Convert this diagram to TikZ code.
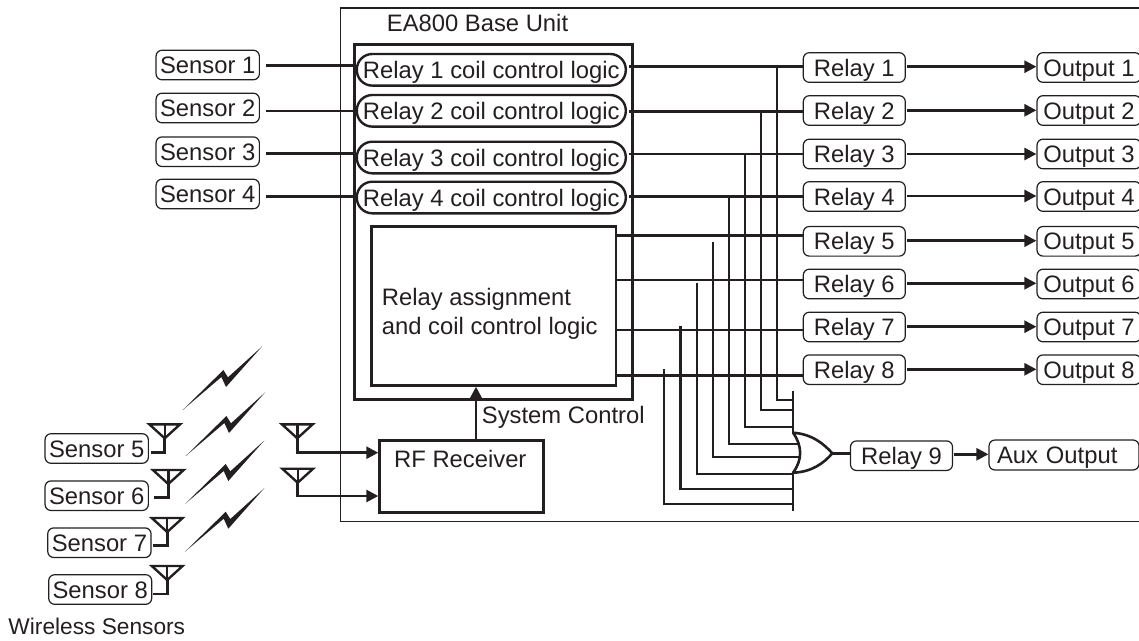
\documentclass[tikz,border=0pt]{standalone}
\usepackage{fontspec}
\setmainfont{Liberation Sans}
\definecolor{ink}{HTML}{231F20}
\usetikzlibrary{arrows.meta,calc}
\tikzset{
  wire/.style={draw=ink,line width=2.6pt},
  thick box/.style={draw=ink,line width=2.7pt},
  arrowwire/.style={wire,-{Triangle[length=12pt,width=12pt]},shorten >=0pt},
  label box/.style={draw=ink,line width=1.2pt,rounded corners=6pt,text=ink,inner sep=0pt,text height=17pt,text depth=0pt},
  relaybox/.style={label box,minimum width=102pt,minimum height=29.6pt},
  pillbox/.style={draw=ink,line width=2.4pt,rounded corners=15.5pt,minimum width=269pt,minimum height=31.6pt,text=ink,inner sep=0pt,text height=17pt,text depth=0pt},
  plain/.style={text=ink,inner sep=0pt,anchor=base west},
  antenna/.style={draw=ink,line width=2.4pt,line join=miter},
  bolt/.style={fill=ink,draw=none},
  every node/.style={font=\fontsize{23.8}{29}\selectfont}
}
\newcommand{\antennaat}[3]{% name, center x, top y
  \coordinate (#1) at (#2,#3+14);
  \draw[antenna] (#2-15.4,#3) -- (#2+15.4,#3) -- (#1) -- cycle;
  \draw[antenna] (#2,#3) -- (#1);
}
\newcommand{\boltat}[2]{%
  \fill[bolt] (#1,#2) -- ++(40.7,-40) -- ++(4.6,7.3) -- ++(34,-30.8) -- ++(-36,40.5) -- ++(-4.6,-10) -- cycle;
}
\begin{document}
\begin{tikzpicture}[x=1pt,y=-1pt]
\useasboundingbox (0,0) rectangle (1139,640);
% outer unit
\draw[draw=ink,line width=1.8pt] (1139,8) -- (340.5,8) -- (340.5,521.5) -- (1139,521.5);
\node[plain] (title) at (386.7,31.7) {EA800 Base Unit};
% base box
\node[thick box,minimum width=277.7pt,minimum height=355pt,anchor=north west,inner sep=0pt] (base) at (353.3,43.3) {};
% pills
\foreach \i/\y in {1/69.8,2/110.8,3/157.5,4/197.5}
  \node[pillbox] (pill\i) at (491.3,\y) {Relay \i{} coil control logic};
% assignment
\node[thick box,minimum width=244.7pt,minimum height=159pt,anchor=north west,inner sep=0pt] (assign) at (370,225) {};
\node[plain] (assigntext1) at (381.7,305) {Relay assignment};
\node[plain] (assigntext2) at (381.7,334) {and coil control logic};
% RF
\node[thick box,minimum width=164pt,minimum height=71.7pt,anchor=north west,inner sep=0pt] (rf) at (378.3,439.3) {};
\node[plain] (rftext) at (394,467) {RF Receiver};
\node[plain] (sys) at (481.7,423) {System Control};
\draw[arrowwire] (rf.north -| 476,0) -- (assign.south -| 476,0);
% relays and outputs
\foreach \i/\y/\w/\a/\xx/\top/\bot in {1/67.5/66.3/66.7/777/66.3/400,2/110.5/111.3/110.3/761/110/410,3/154/154/154/745/154/427,4/196.5/196.7/196/729/196.7/444,5/241.3/235.7/240.7/713/242/457,6/284/280/283.3/697/283/474,7/327/330/326.7/680.5/326/489,8/369.7/375.5/369.3/664/369/504}{
  \node[relaybox] (relay\i) at (854.3,\y) {Relay \i};
  \node[relaybox,minimum width=104pt] (output\i) at (1089,\y) {Output \i};
  \coordinate (in\i) at (802.8,\w);
  \coordinate (from\i) at (907,\a);
  \coordinate (to\i) at (output\i.west |- from\i);
  \draw[arrowwire] (from\i) -- (to\i);
  \coordinate (tap\i) at (\xx,\top);
  \coordinate (feed\i) at (\xx,\bot);
}
% relay wires
\foreach \i in {1,2,3,4}
  \draw[wire] (in\i) -- (in\i -| 629,0);
\foreach \i in {5,6,7,8}
  \draw[wire] (in\i) -- (in\i -| assign.east);
% taps
\coordinate (busx) at (793,0);
\foreach \i in {1,2,3,6,7,8}
  \draw[wire,line join=miter] (tap\i) -- (feed\i) -- (feed\i -| busx);
\draw[wire] (tap4) -- (feed4) -- (797.5,444);
\draw[wire] (tap5) -- (feed5) -- (800,457);
% gate
\coordinate (gatetop) at (793,432.7);
\coordinate (gatebot) at (793,472.7);
\coordinate (gateout) at (832.3,453.3);
\draw[wire] (793,390.7) -- (gatetop);
\draw[wire] (gatebot) -- (793,511.3);
\draw[wire,line join=round] (gatetop) .. controls (802.5,446) and (802.5,460) .. (gatebot)
   .. controls (812,472) and (824,463) .. (gateout) .. controls (824,444) and (812,434) .. (gatetop);
\node[relaybox] (relay9) at (901.5,455.7) {Relay 9};
\draw[wire] (gateout) -- (gateout -| relay9.west);
\node[label box,minimum width=150pt,minimum height=30pt,text width=134pt,align=left] (aux) at (1064,455) {Aux Output};
\coordinate (rel9out) at (953.5,454.3);
\draw[arrowwire] (rel9out) -- (rel9out -| aux.west);
% hard-wired sensors
\foreach \i/\y/\w in {1/65/65.3,2/108/111,3/151.7/153.3,4/194/196.7}{
  \node[relaybox,minimum width=103.3pt] (sensor\i) at (207.7,\y) {Sensor \i};
  \coordinate (sw\i) at (266,\w);
  \draw[wire] (sw\i) -- (sw\i -| pill\i.west);
}
% wireless sensors
\node[relaybox,minimum width=103.3pt] (sensor5) at (96.7,448.5) {Sensor 5};
\node[relaybox,minimum width=103.3pt] (sensor6) at (96.7,495.7) {Sensor 6};
\node[relaybox,minimum width=103.3pt] (sensor7) at (99.4,542.7) {Sensor 7};
\node[relaybox,minimum width=103pt] (sensor8) at (100.2,589.5) {Sensor 8};
\antennaat{a5}{164.7}{424.3}
\antennaat{a6}{168.3}{470}
\antennaat{a7}{167.2}{518}
\antennaat{a8}{167.2}{566}
\antennaat{r1}{297.3}{424.3}
\antennaat{r2}{297.7}{468.7}
\coordinate (s5e) at (150.7,452.3);
\coordinate (s6e) at (154,497.3);
\coordinate (s7e) at (152.7,545.7);
\coordinate (s8e) at (152.7,594);
\draw[wire,line join=miter] (a5) |- (s5e);
\draw[wire,line join=miter] (a6) |- (s6e);
\draw[wire,line join=miter] (a7) |- (s7e);
\draw[wire,line join=miter] (a8) |- (s8e);
\coordinate (r1k) at (297.3,452.7);
\coordinate (r2k) at (297.7,496);
\draw[arrowwire,line join=miter] (r1) -- (r1k) -- (r1k -| rf.west);
\draw[arrowwire,line join=miter] (r2) -- (r2k) -- (r2k -| rf.west);
\node[plain,font=\fontsize{22.7}{27}\selectfont] (wl) at (8.3,634) {Wireless Sensors};
% bolts
\boltat{182.7}{410}
\boltat{185.7}{456}
\boltat{185}{504}
\boltat{185}{551.7}
\end{tikzpicture}
\end{document}
